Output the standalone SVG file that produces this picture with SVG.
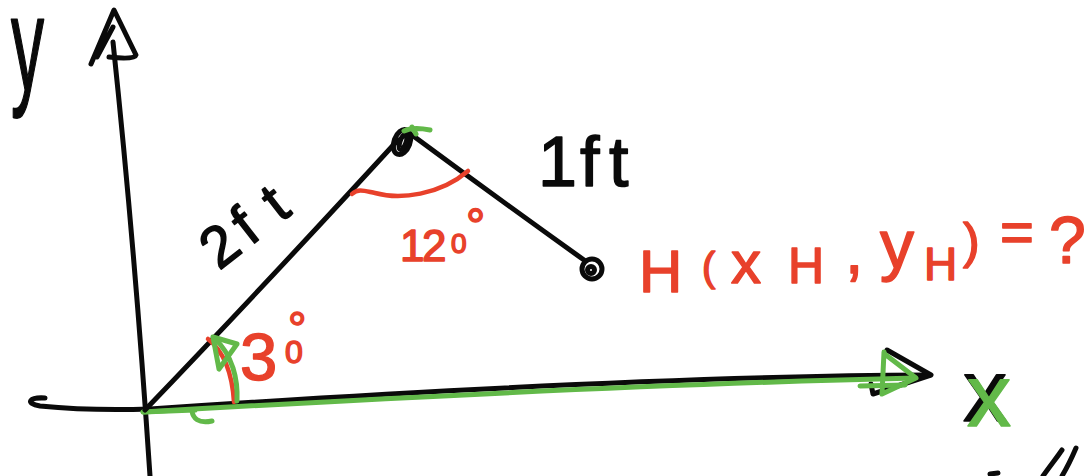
<svg xmlns="http://www.w3.org/2000/svg" width="1088" height="476" viewBox="0 0 1088 476">
<style>
.k{fill:none;stroke:#0a0a0a;stroke-width:5;stroke-linecap:round;stroke-linejoin:round}
.r{fill:none;stroke:#e8412b;stroke-width:4.5;stroke-linecap:round;stroke-linejoin:round}
.g{fill:none;stroke:#62b949;stroke-width:5;stroke-linecap:round;stroke-linejoin:round}
.tk{font-family:"Liberation Sans",Arial,sans-serif;fill:#0a0a0a;stroke:#0a0a0a;stroke-width:1.5;stroke-linejoin:round}
.tr{font-family:"Liberation Sans",Arial,sans-serif;fill:#e8412b;stroke:#e8412b;stroke-width:1.5;stroke-linejoin:round}
.tg{font-family:"Liberation Sans",Arial,sans-serif;fill:#62b949;stroke:#62b949;stroke-width:1.5;stroke-linejoin:round}
</style>
<rect width="1088" height="476" fill="#ffffff"/>
<g id="axes">
  <path class="k" d="M113,42 Q135,250 150,476"/>
  <path class="k" d="M91,64 L114,10 L136,55 Q135,60 109,57 M97,57 L113,27"/>
  <path class="k" d="M45,398 C30,397 24,403 40,406 C80,410 120,410 150,409 C400,392 700,376 930,375"/>
  <path class="k" d="M887,350 L931,375 L873,394 L871,384"/>
  <path class="g" d="M143,412 C350,400 650,384 915,378 M860,386 L905,385"/>
  <path class="g" d="M143,412 L195,410" stroke-width="7"/>
  <path class="g" d="M884,352 L882,394 L916,378 L886,355"/>
  <path class="g" d="M192,411 C193,418 198,424 212,421"/>
</g>
<g id="connectors">
  <path id="arm-2ft" class="k" d="M145,410 Q265,285 398,140"/>
  <path id="arm-1ft" class="k" d="M412,135 Q500,200 584,260"/>
</g>
<g id="node-joint">
  <ellipse class="k" cx="402" cy="142" rx="8" ry="13" transform="rotate(20 402 142)"/>
  <ellipse class="k" cx="403" cy="142" rx="3" ry="8" transform="rotate(20 403 142)"/>
  <path class="g" d="M404,131 C410,128 420,128 430,130 M412,127 L416,134"/>
</g>
<g id="node-H">
  <circle class="k" cx="592" cy="269" r="10"/>
  <circle class="k" cx="591" cy="270" r="3.5"/>
</g>
<g id="angle-120">
  <path class="r" d="M352,194 C358,188 365,191 375,193 C400,200 440,195 468,171"/>
  <text class="tr" font-size="44" x="400 422" y="261">12<tspan font-size="28" x="451" y="253">0</tspan><tspan font-size="48" x="466" y="242">°</tspan></text>
</g>
<g id="angle-30">
  <path class="r" d="M208,339 C222,350 232,370 234,402"/>
  <path class="g" d="M237,401 C238,380 233,355 214,338"/>
  <path class="g" d="M213,337 L237,344 L219,369 Z"/>
  <text class="tr" font-size="67" x="240" y="380">3<tspan font-size="32" x="285" y="363">0</tspan><tspan font-size="46" x="288" y="345">°</tspan></text>
</g>
<g id="labels">
  <text class="tk" font-size="100" transform="translate(11,90) scale(0.66,1.34)">y</text>
  <text class="tk" font-size="58" transform="translate(219,271) rotate(-38)" x="0 32 40 78">2 ft</text>
  <text class="tk" font-size="70" x="538 570 580 609" y="186">1 ft</text>
  <text class="tr"><tspan font-size="60" x="639" y="292">H</tspan><tspan font-size="40" x="702" y="281">(</tspan><tspan font-size="60" x="731" y="283">x</tspan><tspan font-size="50" x="788" y="283">H</tspan><tspan font-size="66" x="845" y="273">, </tspan><tspan font-size="68" x="880" y="268">y</tspan><tspan font-size="46" x="924" y="280">H</tspan><tspan font-size="50" x="963" y="258">) </tspan><tspan font-size="58" x="1000" y="252">= </tspan><tspan font-size="66" x="1049" y="263">?</tspan></text>
  <text class="tk" font-size="88" x="963" y="421">x</text>
  <text class="tg" font-size="88" x="967" y="426">x</text>
  <path class="k" d="M990,474 L998,473 M1043,476 C1050,466 1058,456 1062,450 M1062,476 C1068,466 1073,455 1076,448"/>
</g>
</svg>
